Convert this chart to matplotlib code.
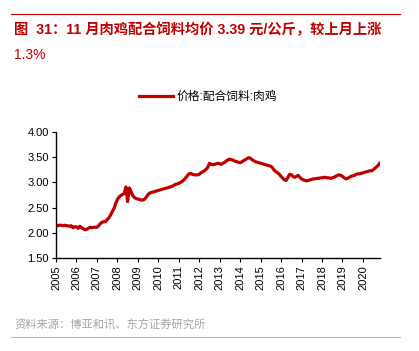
import numpy as np
import matplotlib.pyplot as plt
from matplotlib.lines import Line2D

plt.rcParams['font.family'] = ['Liberation Sans', 'Noto Sans CJK SC', 'DejaVu Sans']

# monthly price, 2005-01 .. 2020-11 (yuan/kg)
p2005 = [2.15, 2.14, 2.15, 2.15, 2.14, 2.15, 2.14, 2.14, 2.13, 2.14, 2.10, 2.12]
p2006 = [2.12, 2.09, 2.13, 2.10, 2.08, 2.06, 2.07, 2.09, 2.11, 2.10, 2.11, 2.11]
p2007 = [2.11, 2.14, 2.18, 2.21, 2.22, 2.22, 2.26, 2.30, 2.35, 2.42, 2.48, 2.58]
p2008 = [2.66, 2.71, 2.74, 2.76, 2.78, 2.91, 2.62, 2.89, 2.82, 2.74, 2.70, 2.68]
p2009 = [2.67, 2.66, 2.65, 2.65, 2.67, 2.71, 2.76, 2.79, 2.80, 2.81, 2.82, 2.83]
p2010 = [2.84, 2.85, 2.86, 2.87, 2.88, 2.89, 2.90, 2.91, 2.92, 2.94, 2.96, 2.97]
p2011 = [2.98, 3.00, 3.02, 3.05, 3.09, 3.13, 3.17, 3.18, 3.16, 3.15, 3.15, 3.15]
p2012 = [3.16, 3.19, 3.21, 3.23, 3.26, 3.30, 3.38, 3.36, 3.35, 3.36, 3.37, 3.38]
p2013 = [3.37, 3.36, 3.38, 3.40, 3.43, 3.45, 3.46, 3.45, 3.44, 3.42, 3.41, 3.40]
p2014 = [3.39, 3.41, 3.43, 3.45, 3.47, 3.49, 3.48, 3.45, 3.43, 3.41, 3.40, 3.39]
p2015 = [3.38, 3.37, 3.36, 3.35, 3.34, 3.33, 3.32, 3.29, 3.24, 3.21, 3.19, 3.16]
p2016 = [3.12, 3.08, 3.05, 3.04, 3.10, 3.16, 3.15, 3.12, 3.10, 3.12, 3.14, 3.10]
p2017 = [3.07, 3.05, 3.04, 3.03, 3.04, 3.05, 3.06, 3.07, 3.07, 3.08, 3.08, 3.09]
p2018 = [3.09, 3.10, 3.10, 3.09, 3.09, 3.08, 3.09, 3.10, 3.12, 3.14, 3.15, 3.14]
p2019 = [3.12, 3.09, 3.07, 3.08, 3.10, 3.12, 3.13, 3.14, 3.16, 3.17, 3.17, 3.18]
p2020 = [3.19, 3.20, 3.21, 3.22, 3.23, 3.23, 3.25, 3.28, 3.31, 3.34, 3.39]

years = list(range(2005, 2021))
price = (p2005 + p2006 + p2007 + p2008 + p2009 + p2010 + p2011 + p2012 +
         p2013 + p2014 + p2015 + p2016 + p2017 + p2018 + p2019 + p2020)

red = '#C00000'

fig = plt.figure(figsize=(4.19, 3.51), dpi=100)
ax = fig.add_axes([56 / 419, 1 - 258 / 351, 324 / 419, 126 / 351])

x = np.arange(len(price))
ax.plot(x, price, color=red, linewidth=2.3, solid_capstyle='round')

ax.set_xlim(0, len(price) - 1)
ax.set_ylim(1.5, 4.0)
ax.set_yticks(np.arange(1.5, 4.01, 0.5))
ax.set_yticklabels([f'{v:.2f}' for v in np.arange(1.5, 4.01, 0.5)], fontsize=8)
ax.set_xticks([12 * i for i in range(len(years))])
ax.set_xticklabels([str(y) for y in years], rotation=90, fontsize=8)
ax.tick_params(length=3, width=0.8, pad=2)
for s in ['top', 'right']:
    ax.spines[s].set_visible(False)
ax.spines['left'].set_linewidth(1.0)
ax.spines['bottom'].set_linewidth(1.0)

# legend
fig.legend(handles=[Line2D([], [], color=red, linewidth=2.3)],
           labels=['价格:配合饲料:肉鸡'], loc='center', bbox_to_anchor=(208 / 419, 1 - 97 / 351),
           frameon=False, fontsize=8.5, handlelength=2.8, handletextpad=0.3)

# title and frame lines
fig.add_artist(Line2D([11 / 419, 400 / 419], [1 - 14 / 351, 1 - 14 / 351], color=red, linewidth=0.8))
fig.text(14 / 419, 1 - 30 / 351, '图  31：11 月肉鸡配合饲料均价 3.39 元/公斤，较上月上涨',
         color=red, fontsize=10.3, fontweight='bold', va='center', ha='left')
fig.text(14 / 419, 1 - 55 / 351, '1.3%', color=red, fontsize=10, va='center', ha='left')

fig.text(14 / 419, 1 - 325 / 351, '资料来源：博亚和讯、东方证券研究所',
         color='#A6A6A6', fontsize=8.1, va='center', ha='left')
fig.add_artist(Line2D([11 / 419, 400 / 419], [1 - 337 / 351, 1 - 337 / 351], color='#E8A0A0', linewidth=0.8))

fig.savefig('out.png', dpi=100)
